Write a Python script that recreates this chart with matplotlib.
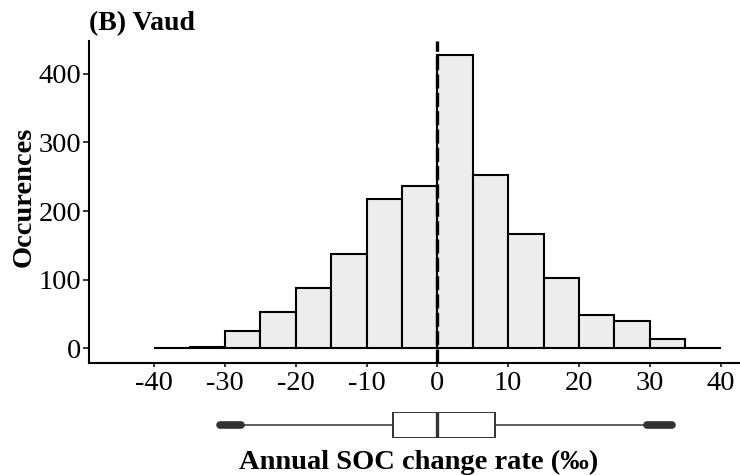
import numpy as np
import matplotlib
matplotlib.use("Agg")
import matplotlib.pyplot as plt

# ---- data ----
bin_edges = [-40, -35, -30, -25, -20, -15, -10, -5, 0, 5, 10, 15, 20, 25, 30, 35, 40]
counts = [0, 2, 25, 53, 88, 137, 217, 237, 427, 253, 166, 103, 48, 40, 14, 0]
x_ticks = [-40, -30, -20, -10, 0, 10, 20, 30, 40]
y_ticks = [0, 100, 200, 300, 400]
box_q1, box_med, box_q3 = -6.3, 0.0, 8.2
whisker_lo, whisker_hi = -27.8, 29.6
outliers_low = [-30.7, -27.8]
outliers_high = [29.6, 33.2]
ref_line = 0
title = "(B) Vaud"
ylabel = "Occurences"
xlabel = "Annual SOC change rate (\u2030)"

plt.rcParams['font.family'] = ['Liberation Serif', 'DejaVu Serif']

W, H = 740, 475
fig = plt.figure(figsize=(W / 100, H / 100), dpi=100)

xmin, xmax = -49.2, 49.2
ppu = 7.08
left_px = 89
width_px = (xmax - xmin) * ppu
bot_px, top_px = 363, 40.7

ax = fig.add_axes([left_px / W, 1 - bot_px / H, width_px / W, (bot_px - top_px) / H])
edges = np.array(bin_edges, dtype=float)
ax.bar(edges[:-1], counts, width=np.diff(edges), align='edge',
       color='#EDEDED', edgecolor='black', linewidth=1.5, zorder=2)
ax.axvline(ref_line, color='black', lw=2.4, dashes=(4.2, 1.3), zorder=3)
ax.set_xlim(xmin, xmax)
ax.set_ylim(-21.35, 448.35)
ax.set_xticks(x_ticks)
ax.set_yticks(y_ticks)
ax.set_xticklabels([str(t) for t in x_ticks])
for s in ['top', 'right']:
    ax.spines[s].set_visible(False)
for s in ['left', 'bottom']:
    ax.spines[s].set_linewidth(1.5)
ax.tick_params(axis='y', length=4.5, width=1.1, pad=1, labelsize=20.5, colors='black')
ax.tick_params(axis='x', length=3, width=1.1, pad=3, labelsize=20.5, colors='black')

ax.set_ylabel(ylabel, fontsize=20.5, fontweight='bold')
ax.yaxis.set_label_coords(24 / W, 1 - 197 / H, transform=fig.transFigure)
ax.yaxis.label.set_va('center')
ax.yaxis.label.set_ha('center')

# boxplot panel
bt, bb = 412.3, 438.3
ax2 = fig.add_axes([left_px / W, 1 - bb / H, width_px / W, (bb - bt) / H])
stats = [dict(med=box_med, q1=box_q1, q3=box_q3, whislo=whisker_lo, whishi=whisker_hi, fliers=[])]
ax2.bxp(stats, positions=[0], widths=1.0, orientation='horizontal', showcaps=False,
        patch_artist=True,
        boxprops=dict(facecolor='white', edgecolor='#333333', linewidth=1.4),
        whiskerprops=dict(color='#333333', linewidth=1.1),
        medianprops=dict(color='#333333', linewidth=2.4),
        manage_ticks=False)
for seg in (outliers_low, outliers_high):
    ax2.plot(seg, [0, 0], color='#333333', lw=5.5, solid_capstyle='round', clip_on=False)
ax2.set_xlim(xmin, xmax)
ax2.set_ylim(-0.5, 0.5)
ax2.axis('off')

fig.text(89 / W, 1 - 24 / H, title, fontsize=20, fontweight='bold', va='center', ha='left')
fig.text(418.5 / W, 1 - 462 / H, xlabel, fontsize=20.5, fontweight='bold', va='center', ha='center')

fig.savefig('out.png', dpi=100)
